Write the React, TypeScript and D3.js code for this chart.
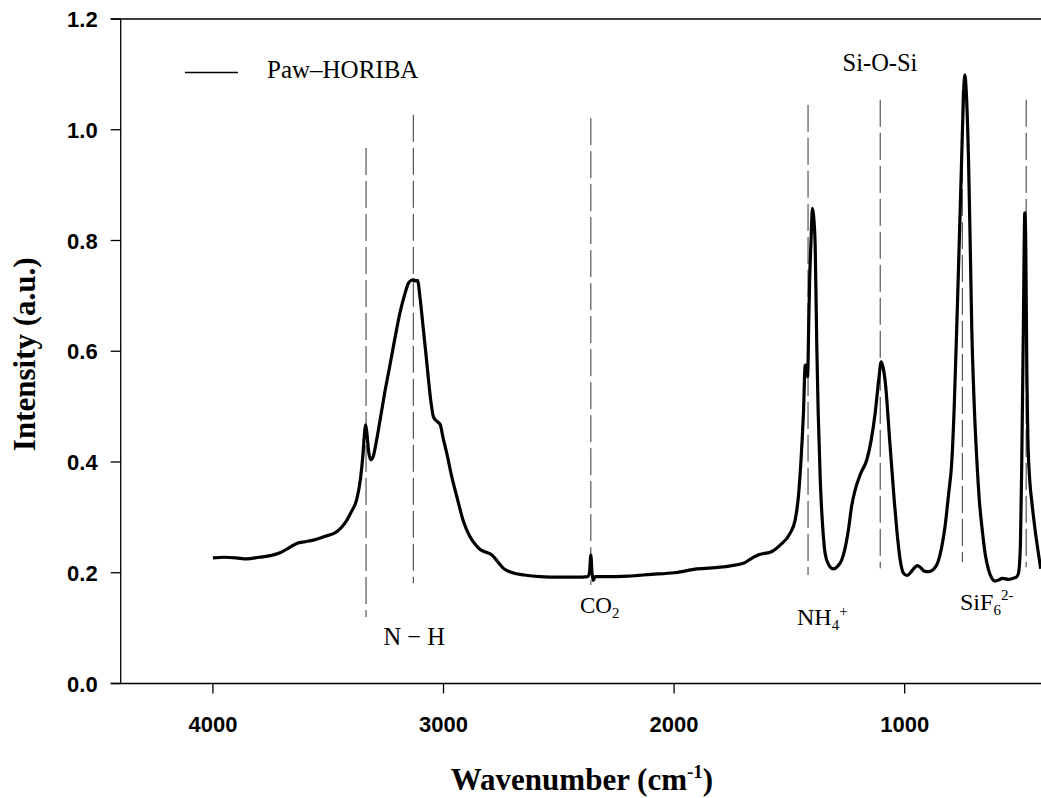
import React from "react";
import * as d3 from "d3";

const wavenumbers = [
  4000, 3950, 3900, 3853, 3800, 3750, 3709, 3670, 3636, 3600, 3565, 3520, 3463, 3440, 3419, 3400, 3376, 3360, 3350, 3343,
  3338, 3333, 3325, 3315, 3305, 3290, 3275, 3255, 3231, 3210, 3188, 3170, 3152, 3140, 3130, 3120, 3113, 3100, 3087, 3075,
  3065, 3055, 3044, 3030, 3015, 3000, 2986, 2965, 2942, 2913, 2885, 2860, 2841, 2815, 2790, 2765, 2740, 2700, 2650, 2581,
  2500, 2420, 2375, 2367, 2361, 2356, 2350, 2343, 2300, 2200, 2100, 2000, 1900, 1800, 1750, 1700, 1660, 1630, 1583, 1540,
  1497, 1475, 1461, 1450, 1439, 1431, 1425, 1421, 1416, 1412, 1406, 1400, 1394, 1388, 1381, 1375, 1366, 1355, 1345, 1330,
  1309, 1290, 1273, 1258, 1244, 1230, 1215, 1190, 1164, 1145, 1128, 1112, 1102, 1093, 1085, 1063, 1045, 1034, 1020, 1005,
  990, 975, 960, 945, 930, 915, 895, 875, 855, 840, 825, 810, 795, 785, 774, 763, 753, 745, 739, 733,
  723, 716, 709, 698, 687, 676, 665, 650, 636, 622, 608, 593, 575, 550, 530, 515, 506, 498, 492, 485,
  479, 475, 470, 466, 458, 449, 435, 420, 410,
];

const intensities = [
  0.227, 0.228, 0.227, 0.225, 0.228, 0.231, 0.236, 0.245, 0.253, 0.256, 0.259, 0.265, 0.274, 0.283, 0.295, 0.31, 0.333, 0.37, 0.41, 0.45,
  0.467, 0.455, 0.42, 0.404, 0.41, 0.44, 0.476, 0.525, 0.578, 0.625, 0.671, 0.7, 0.723, 0.728, 0.729, 0.727, 0.728, 0.69, 0.638, 0.59,
  0.548, 0.51, 0.482, 0.474, 0.468, 0.44, 0.416, 0.375, 0.337, 0.292, 0.265, 0.25, 0.242, 0.237, 0.232, 0.22, 0.208, 0.2, 0.196, 0.193,
  0.192, 0.192, 0.193, 0.2, 0.232, 0.2, 0.186, 0.193, 0.193, 0.194, 0.197, 0.2, 0.207, 0.21, 0.213, 0.217, 0.227, 0.233, 0.237, 0.25,
  0.271, 0.295, 0.337, 0.4, 0.488, 0.575, 0.57, 0.554, 0.65, 0.729, 0.8, 0.858, 0.84, 0.789, 0.608, 0.49, 0.367, 0.28, 0.235, 0.215,
  0.207, 0.212, 0.223, 0.245, 0.277, 0.32, 0.349, 0.38, 0.404, 0.44, 0.488, 0.55, 0.581, 0.57, 0.548, 0.428, 0.33, 0.277, 0.225, 0.199,
  0.195, 0.2, 0.208, 0.213, 0.209, 0.203, 0.202, 0.206, 0.22, 0.245, 0.283, 0.34, 0.404, 0.5, 0.644, 0.8, 0.945, 1.06, 1.099, 1.07,
  0.945, 0.8, 0.644, 0.5, 0.404, 0.33, 0.283, 0.232, 0.205, 0.19, 0.185, 0.187, 0.19, 0.188, 0.19, 0.192, 0.2, 0.25, 0.404, 0.65,
  0.85, 0.8, 0.56, 0.45, 0.37, 0.33, 0.28, 0.235, 0.207,
];

const xTicks = [4000, 3000, 2000, 1000];
const yTicks = [0, 0.2, 0.4, 0.6, 0.8, 1.0, 1.2];

// dashed marker lines: wavenumber, top and bottom intensity
const markerWn = [3336, 3131, 2361, 1419, 1106, 750, 473];
const markerTop = [0.967, 1.027, 1.021, 1.045, 1.054, 1.072, 1.054];
const markerBottom = [0.12, 0.181, 0.178, 0.196, 0.208, 0.219, 0.21];

const legendLabel = "Paw\u2013HORIBA";

export default function App() {
  const W = 1041;
  const H = 798;
  const x = d3.scaleLinear().domain([4400, 400]).range([120.7, 1043]);
  const y = d3.scaleLinear().domain([0, 1.2]).range([683.5, 19]);

  const pts: [number, number][] = wavenumbers.map((w, i) => [w, intensities[i]]);
  const line = d3
    .line<[number, number]>()
    .x((d) => x(d[0]))
    .y((d) => y(d[1]))
    .curve(d3.curveMonotoneX);

  const serif = "'Liberation Serif', 'Times New Roman', serif";
  const sans = "'Liberation Sans', Arial, sans-serif";
  const axL = x(4400);
  const axB = y(0);
  const axT = y(1.2);

  return (
    <svg width={W} height={H} style={{ position: "absolute", left: 0, top: 0 }}>
      <rect width={W} height={H} fill="#fff" />
      {/* frame */}
      <line x1={axL - 10} x2={W} y1={axT} y2={axT} stroke="#000" strokeWidth={1.3} />
      <line x1={axL - 10} x2={W} y1={axB} y2={axB} stroke="#000" strokeWidth={1.3} />
      <line x1={axL} x2={axL} y1={axT} y2={axB} stroke="#000" strokeWidth={1.3} />
      {/* y ticks */}
      {yTicks.map((t) => (
        <g key={"y" + t}>
          <line x1={axL - 10} x2={axL} y1={y(t)} y2={y(t)} stroke="#000" strokeWidth={1.3} />
          <text x={axL - 23} y={y(t) + 8} textAnchor="end" fontFamily={sans} fontWeight="bold" fontSize={22}>
            {d3.format(".1f")(t)}
          </text>
        </g>
      ))}
      {/* x ticks */}
      {xTicks.map((t) => (
        <g key={"x" + t}>
          <line x1={x(t)} x2={x(t)} y1={axB} y2={axB + 10} stroke="#000" strokeWidth={1.3} />
          <text x={x(t)} y={axB + 48} textAnchor="middle" fontFamily={sans} fontWeight="bold" fontSize={22}>
            {t}
          </text>
        </g>
      ))}
      {/* marker dashed lines */}
      {markerWn.map((w, i) => (
        <line
          key={"m" + w}
          x1={x(w)}
          x2={x(w)}
          y1={y(markerTop[i])}
          y2={y(markerBottom[i])}
          stroke="#333"
          strokeWidth={1}
          strokeDasharray="27,6"
        />
      ))}
      {/* spectrum */}
      <path d={line(pts) || ""} fill="none" stroke="#000" strokeWidth={3.2} strokeLinejoin="round" />
      {/* legend */}
      <line x1={185} x2={238} y1={72.5} y2={72.5} stroke="#000" strokeWidth={1.3} />
      <text x={267} y={78} fontFamily={serif} fontSize={25}>
        {legendLabel}
      </text>
      {/* annotations */}
      <text x={x(3127)} y={645} textAnchor="middle" fontFamily={serif} fontSize={24.5}>
        N {"\u2212"} H
      </text>
      <text x={580} y={613} fontFamily={serif} fontSize={23}>
        CO<tspan fontSize={15} dy={5}>2</tspan>
      </text>
      <text x={797} y={625} fontFamily={serif} fontSize={24}>
        NH<tspan fontSize={15} dy={5}>4</tspan>
        <tspan fontSize={15} dy={-14}>+</tspan>
      </text>
      <text x={880} y={71} textAnchor="middle" fontFamily={serif} fontSize={24.5}>
        Si-O-Si
      </text>
      <text x={960} y={610} fontFamily={serif} fontSize={24}>
        SiF<tspan fontSize={15} dy={5}>6</tspan>
        <tspan fontSize={15} dy={-15}>2-</tspan>
      </text>
      {/* axis titles */}
      <text
        transform={`translate(35, ${y(0.6) + 3}) rotate(-90)`}
        textAnchor="middle"
        fontFamily={serif}
        fontWeight="bold"
        fontSize={31}
      >
        Intensity (a.u.)
      </text>
      <text x={582} y={790} textAnchor="middle" fontFamily={serif} fontWeight="bold" fontSize={31}>
        Wavenumber (cm<tspan fontSize={19} dy={-12}>-1</tspan>
        <tspan dy={12}>)</tspan>
      </text>
    </svg>
  );
}
